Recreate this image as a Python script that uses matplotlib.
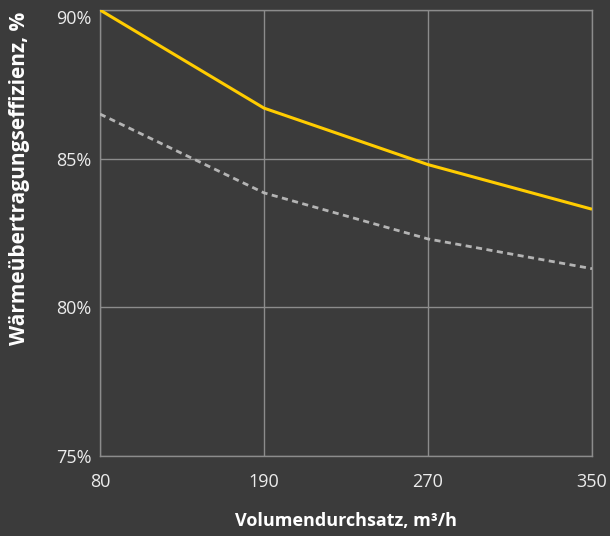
import matplotlib
matplotlib.use("Agg")
from matplotlib import pyplot
import matplotlib.ticker

x_labels = ["80", "190", "270", "350"]
efficiency_main = [90.0, 86.7, 84.8, 83.3]
efficiency_alt = [86.5, 83.85, 82.3, 81.3]
y_ticks = [75, 80, 85, 90]

bg = "#3b3b3b"
grid_color = "#8c8c8c"
text_color = "#ececec"

pyplot.rcParams["font.family"] = ["Open Sans", "DejaVu Sans"]

fig = pyplot.figure(figsize=(6.1, 5.36), dpi=100, facecolor=bg)
ax = fig.add_axes([100 / 610, 80 / 536, 492 / 610, 446 / 536], facecolor=bg)

x = list(range(len(x_labels)))
ax.plot(x, efficiency_main, color="#ffcc00", linewidth=2.2, solid_capstyle="butt", zorder=3)
ax.plot(x, efficiency_alt, color="#b4b4b4", linewidth=2.0, linestyle=(0, (2.2, 1.6)), zorder=3)

ax.set_xlim(0, len(x_labels) - 1)
ax.set_ylim(75, 90)
ax.set_xticks(x, x_labels)
ax.set_yticks(y_ticks)
ax.yaxis.set_major_formatter(matplotlib.ticker.FuncFormatter(lambda v, p: "{:.0f}%".format(v)))
ax.grid(color=grid_color, linewidth=1)
ax.tick_params(length=0, colors=text_color, labelsize=13)
ax.tick_params(axis="x", pad=12)
ax.tick_params(axis="y", pad=6)
for s in ax.spines.values():
    s.set_color(grid_color)
    s.set_linewidth(1)
# top label sits just inside the frame
ax.get_yticklabels()[-1].set_va("top")

fig.text(20 / 610, 1 - 178 / 536, "Wärmeübertragungseffizienz, %", rotation=90,
         ha="center", va="center", color="white", fontsize=15, fontweight="bold")
fig.text(346 / 610, 1 - 521 / 536, "Volumendurchsatz, m³/h",
         ha="center", va="center", color="white", fontsize=13, fontweight="bold")

pyplot.savefig("out.png", facecolor=bg)
